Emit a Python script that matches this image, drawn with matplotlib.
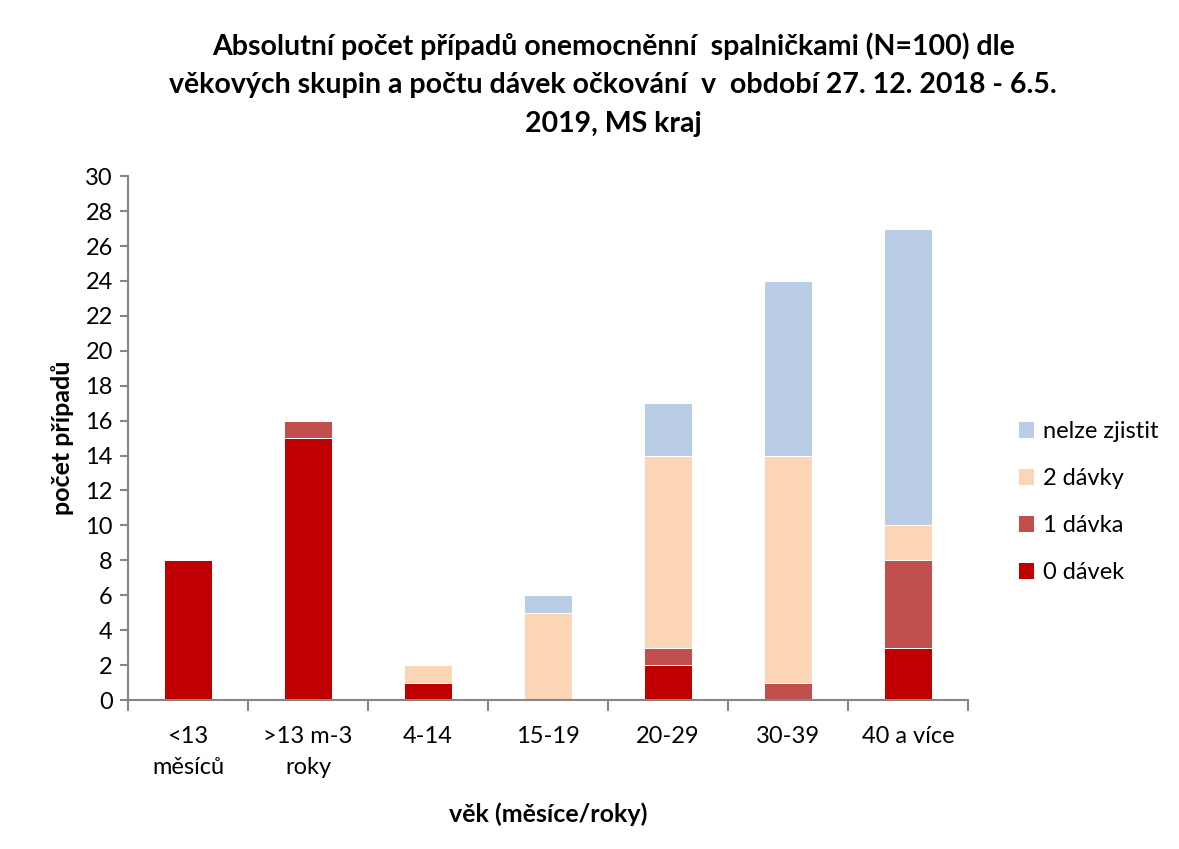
import numpy as np
import matplotlib
matplotlib.use("Agg")
import matplotlib.pyplot as plt

plt.rcParams['font.family'] = ['Lato', 'DejaVu Sans']

categories = ["<13\nměsíců", ">13 m-3\nroky", "4-14", "15-19", "20-29", "30-39", "40 a více"]
davek0 = [8, 15, 1, 0, 2, 0, 3]
davka1 = [0, 1, 0, 0, 1, 1, 5]
davky2 = [0, 0, 1, 5, 11, 13, 2]
nelze = [0, 0, 0, 1, 3, 10, 17]

series = [
    ("0 dávek", davek0, "#C00000"),
    ("1 dávka", davka1, "#C0504D"),
    ("2 dávky", davky2, "#FBD5B5"),
    ("nelze zjistit", nelze, "#B9CDE5"),
]

fig = plt.figure(figsize=(11.79, 8.49), dpi=100)
ax = fig.add_axes([0.1086, 0.1755, 0.7125, 0.617])

x = np.arange(len(categories))
bottom = np.zeros(len(categories))
handles = []
for name, vals, col in series:
    b = ax.bar(x, vals, 0.4, bottom=bottom, color=col, edgecolor="white",
               linewidth=0.7, label=name)
    handles.append(b)
    bottom += np.array(vals)

ax.set_xlim(-0.5, len(categories) - 0.5)
ax.set_ylim(0, 30)
ax.set_yticks(range(0, 31, 2))
ax.set_xticks(np.arange(-0.5, len(categories), 1))
ax.set_xticklabels([])
ax.set_xticks(x, minor=True)
ax.set_xticklabels(categories, minor=True, fontsize=17, linespacing=1.55)
ax.tick_params(axis="x", which="major", length=8, color="#868686", width=1.5)
ax.tick_params(axis="x", which="minor", length=0, pad=19)
ax.tick_params(axis="y", length=6, color="#868686", width=1.5, labelsize=17, pad=5)

for s in ["top", "right"]:
    ax.spines[s].set_visible(False)
for s in ["left", "bottom"]:
    ax.spines[s].set_color("#868686")
    ax.spines[s].set_linewidth(1.5)

ax.set_ylabel("počet případů", fontsize=18, fontweight="bold", labelpad=8)
ax.set_xlabel("věk (měsíce/roky)", fontsize=18, fontweight="bold", labelpad=18)

fig.text(0.52, 0.962,
         "Absolutní počet případů onemocněnní  spalničkami (N=100) dle\n"
         "věkových skupin a počtu dávek očkování  v  období 27. 12. 2018 - 6.5.\n"
         "2019, MS kraj",
         ha="center", va="top", fontsize=20.5, fontweight="bold", linespacing=1.6)

leg = fig.legend(handles[::-1], [s[0] for s in series][::-1],
                 loc="center left", bbox_to_anchor=(0.845, 0.409),
                 frameon=False, fontsize=17, handlelength=0.7, handleheight=0.7,
                 labelspacing=1.1, handletextpad=0.4)

fig.savefig("out.png", dpi=100)
